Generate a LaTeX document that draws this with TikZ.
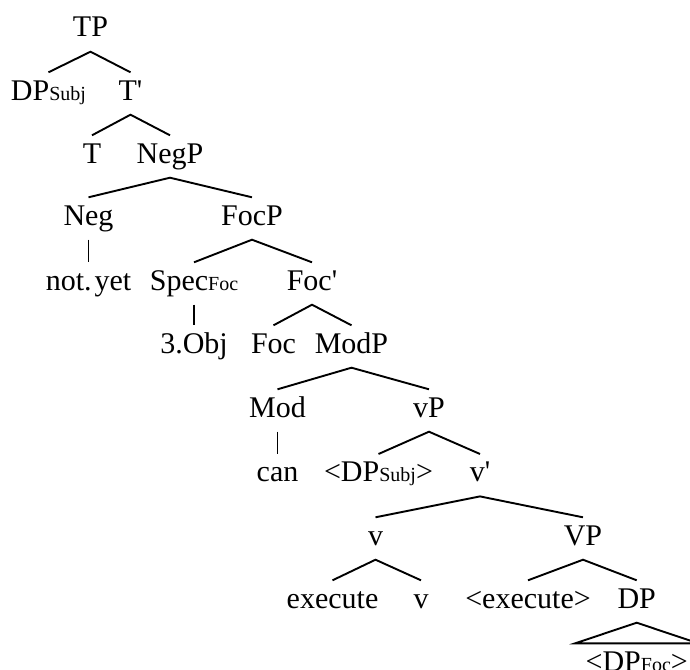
\documentclass[tikz,border=0pt]{standalone}
\usepackage{fontspec}
\setmainfont{Liberation Serif}
\newcommand\sbx[1]{{\fontsize{20}{22}\selectfont #1}}
\newcommand\prm{\textquotesingle}
\begin{document}
\begin{tikzpicture}[x=1pt,y=-1pt,
  every node/.style={font=\fontsize{30}{34}\selectfont, inner sep=0pt,
    text height=27.5pt, text depth=14.5pt, anchor=base},
  br/.style={line width=1.9pt}]
\useasboundingbox (0,0) rectangle (690,669);
\clip (0,0) rectangle (690,669);
\node (TP)     at (90.5,37)   {TP};
\node (DPs)    at (48.5,100)  {DP\sbx{Subj}};
\node (Tb)     at (130.5,100) {T\prm};
\node (T)      at (92,163)    {T};
\node (NegP)   at (170,163)   {NegP};
\node (Neg)    at (88.5,225)  {Neg};
\node (FocP)   at (252,225)   {FocP};
\node (notyet) at (88.5,290)  {not.\kern3pt yet};
\node (Spec)   at (194,290)   {Spec\sbx{Foc}};
\node (Focb)   at (312,290)   {Foc\prm};
\node (Obj)    at (194,353)   {3.Obj};
\node (Foc)    at (273.5,353) {Foc};
\node (ModP)   at (351.5,353) {ModP};
\node (Mod)    at (277.5,417) {Mod};
\node (vP)     at (429,417)   {vP};
\node (can)    at (277.5,481.7) {can};
\node (DPs2)   at (378.5,481.7) {<DP\sbx{Subj}>};
\node (vb)     at (480,481.7) {v\prm};
\node (v)      at (375.5,545) {v};
\node (VP)     at (583,545)   {VP};
\node (exec)   at (332.5,608) {execute};
\node (v2)     at (421,608)   {v};
\node (exec2)  at (528,608)   {<execute>};
\node (DP)     at (636.7,608) {DP};
\node (DPf)    at (636.7,671) {<DP\sbx{Foc}>};
\begin{scope}[br]
\draw (DPs.north) -- (TP.south) -- (Tb.north);
\draw (T.north) -- (Tb.south) -- (NegP.north);
\draw (Neg.north) -- (NegP.south) -- (FocP.north);
\draw (Neg.south) -- (notyet.north);
\draw (Spec.north) -- (FocP.south) -- (Focb.north);
\draw (Spec.south) -- (Obj.north);
\draw (Foc.north) -- (Focb.south) -- (ModP.north);
\draw (Mod.north) -- (ModP.south) -- (vP.north);
\draw (Mod.south) -- (can.north);
\draw (DPs2.north) -- (vP.south) -- (vb.north);
\draw (v.north) -- (vb.south) -- (VP.north);
\draw (exec.north) -- (v.south) -- (v2.north);
\draw (exec2.north) -- (VP.south) -- (DP.north);
\draw (DP.south) -- ([xshift=-61.5pt]DPf.north) -- ([xshift=61.5pt]DPf.north) -- cycle;
\end{scope}
\end{tikzpicture}
\end{document}
